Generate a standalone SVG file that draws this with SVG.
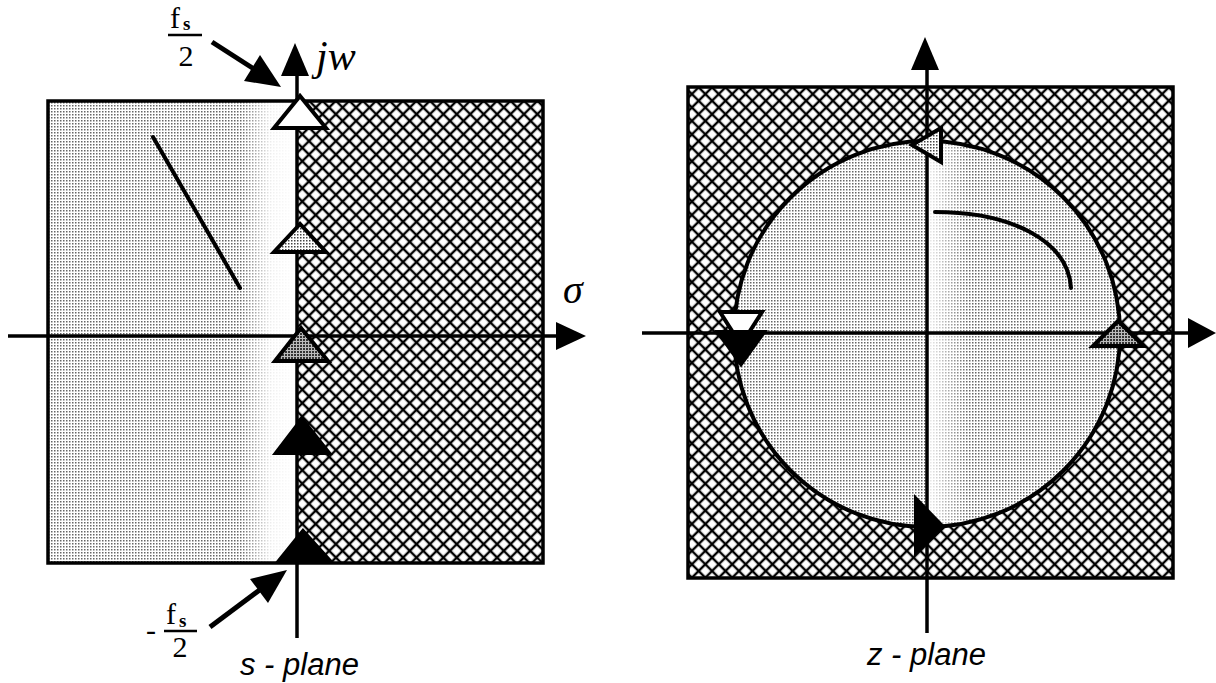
<svg xmlns="http://www.w3.org/2000/svg" width="1216" height="683" viewBox="0 0 1216 683">
<defs>
<pattern id="hatch" patternUnits="userSpaceOnUse" width="9.5" height="9.5" patternTransform="rotate(45)">
<rect width="9.5" height="9.5" fill="#fff"/>
<line x1="0" y1="4.75" x2="9.5" y2="4.75" stroke="#000" stroke-width="2.4"/>
<line x1="4.75" y1="0" x2="4.75" y2="9.5" stroke="#000" stroke-width="2.4"/>
</pattern>
<pattern id="dots" patternUnits="userSpaceOnUse" width="3" height="3">
<rect width="3" height="3" fill="#fff"/>
<rect width="1.5" height="1.5" fill="#666"/>
</pattern>
<pattern id="dotsDark" patternUnits="userSpaceOnUse" width="3" height="3">
<rect width="3" height="3" fill="#bbb"/>
<rect width="2" height="2" fill="#333"/>
</pattern>
<pattern id="dotsLight" patternUnits="userSpaceOnUse" width="3" height="3">
<rect width="3" height="3" fill="#fff"/>
<rect width="1.5" height="1.5" fill="#444"/>
</pattern>
<linearGradient id="fadeS" x1="0" y1="0" x2="1" y2="0">
<stop offset="0" stop-color="#fff" stop-opacity="0"/>
<stop offset="0.55" stop-color="#fff" stop-opacity="0.9"/>
<stop offset="1" stop-color="#fff" stop-opacity="1"/>
</linearGradient>
<linearGradient id="fadeZ" x1="0" y1="0" x2="1" y2="0">
<stop offset="0" stop-color="#fff" stop-opacity="0.9"/>
<stop offset="1" stop-color="#fff" stop-opacity="0"/>
</linearGradient>
<style>
.axis{stroke:#000;stroke-width:3.5;fill:none}
.head{fill:#000}
.tri{stroke:#000;stroke-width:4;stroke-linejoin:miter}
.frame{stroke:#000;stroke-width:3.5}
.curve{stroke:#000;stroke-width:4;fill:none;stroke-linecap:round}
.math{font-family:"Liberation Serif","Times New Roman",serif;fill:#000}
.cap{font-family:"Liberation Sans",Arial,sans-serif;font-style:italic;font-size:31px;fill:#000}
</style>
</defs>
<rect width="1216" height="683" fill="#fff"/>

<g id="s-plane">
<rect x="48" y="101" width="249" height="462" fill="url(#dots)"/>
<rect x="240" y="101" width="57" height="462" fill="url(#fadeS)"/>
<rect x="297" y="101" width="246" height="462" fill="url(#hatch)"/>
<rect x="48" y="101" width="495" height="462" fill="none" class="frame"/>
<line x1="153" y1="137" x2="240" y2="288" class="curve"/>
</g>

<g id="z-plane">
<rect x="688" y="87" width="485" height="491" fill="url(#hatch)"/>
<circle cx="927" cy="334" r="193" fill="url(#dots)"/>
<rect x="928" y="141" width="40" height="386" fill="url(#fadeZ)"/>
<circle cx="927" cy="334" r="193" fill="none" stroke="#000" stroke-width="4"/>
<rect x="688" y="87" width="485" height="491" fill="none" class="frame"/>
<path d="M935,212 C1010,212 1068,240 1071,288" class="curve"/>
</g>

<g id="connectors">
<line x1="8" y1="336" x2="558" y2="336" class="axis"/>
<polygon points="586,336 556,322 556,350" class="head"/>
<line x1="297" y1="72" x2="297" y2="638" class="axis"/>
<polygon points="295,43 281,76 309,76" class="head"/>
<line x1="642" y1="333" x2="1190" y2="333" class="axis"/>
<polygon points="1216,333 1188,318 1188,348" class="head"/>
<line x1="927" y1="68" x2="927" y2="633" class="axis"/>
<polygon points="925,37 911,70 939,70" class="head"/>
<line x1="212" y1="42" x2="254" y2="69" stroke="#000" stroke-width="5"/>
<polygon points="281,87 244,81 260,55" class="head"/>
<line x1="210" y1="627" x2="261" y2="589" stroke="#000" stroke-width="5"/>
<polygon points="287,570 250,579 268,603" class="head"/>
</g>

<g id="s-markers">
<polygon points="300,96 274,128 326,128" fill="#fff" class="tri"/>
<polygon points="300,224 274,252 326,252" fill="url(#dotsLight)" class="tri"/>
<polygon points="301,328 275,361 328,361" fill="url(#dotsDark)" class="tri"/>
<polygon points="302,419 276,453 329,453" fill="#000" class="tri"/>
<polygon points="303,531 278,562 331,562" fill="#000" class="tri"/>
</g>

<g id="z-markers">
<polygon points="912,145 941,128 941,162" fill="url(#dotsLight)" class="tri"/>
<polygon points="720,312 762,312 741,345" fill="#fff" class="tri"/>
<polygon points="718,332 764,332 741,364" fill="#000" class="tri"/>
<polygon points="1118,321 1093,346 1144,346" fill="url(#dotsDark)" class="tri"/>
<polygon points="916,499 916,552 943,527" fill="#000" class="tri"/>
</g>

<g id="labels">
<text x="316" y="70" class="math" font-size="42" font-style="italic">jw</text>
<text x="563" y="303" class="math" font-size="40" font-style="italic">σ</text>
<text x="170" y="28" class="math" font-size="30">f</text>
<text x="183" y="30" class="math" font-size="19" font-weight="bold">s</text>
<line x1="168" y1="35" x2="202" y2="35" stroke="#000" stroke-width="2.5"/>
<text x="186" y="66" class="math" font-size="30" text-anchor="middle">2</text>
<text x="146" y="640" class="math" font-size="30">-</text>
<text x="166" y="624" class="math" font-size="30">f</text>
<text x="179" y="627" class="math" font-size="19" font-weight="bold">s</text>
<line x1="164" y1="631" x2="197" y2="631" stroke="#000" stroke-width="2.5"/>
<text x="180" y="657" class="math" font-size="30" text-anchor="middle">2</text>
<text x="240" y="675" class="cap">s - plane</text>
<text x="867" y="665" class="cap">z - plane</text>
</g>
</svg>
